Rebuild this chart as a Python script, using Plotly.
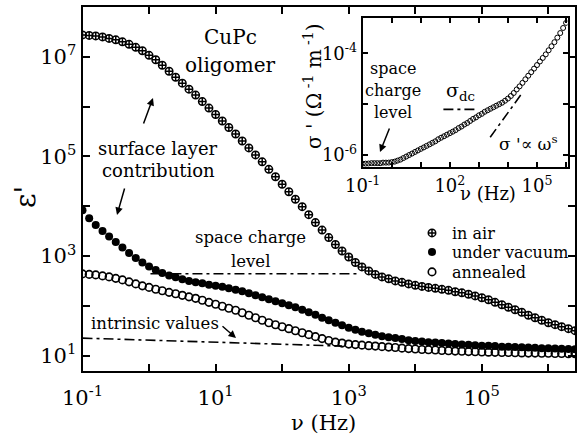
import plotly.graph_objects as go

# ---------------- data ----------------
freq = [0.1, 0.126, 0.158, 0.2, 0.251, 0.316, 0.398, 0.501, 0.631, 0.794,
        1, 1.26, 1.58, 2, 2.51, 3.16, 3.98, 5.01, 6.31, 7.94,
        10, 12.6, 15.8, 20, 25.1, 31.6, 39.8, 50.1, 63.1, 79.4,
        100, 126, 158, 200, 251, 316, 398, 501, 631, 794,
        1e3, 1.26e3, 1.58e3, 2e3, 2.51e3, 3.16e3, 3.98e3, 5.01e3, 6.31e3, 7.94e3,
        1e4, 1.26e4, 1.58e4, 2e4, 2.51e4, 3.16e4, 3.98e4, 5.01e4, 6.31e4, 7.94e4,
        1e5, 1.26e5, 1.58e5, 2e5, 2.51e5, 3.16e5, 3.98e5, 5.01e5, 6.31e5, 7.94e5,
        1e6, 1.26e6, 1.58e6, 2e6, 2.51e6]

eps_air = [2.75e7, 2.69e7, 2.63e7, 2.51e7, 2.34e7, 2.19e7, 2.00e7, 1.78e7, 1.55e7, 1.32e7,
           1.07e7, 8.71e6, 6.76e6, 5.13e6, 3.89e6, 2.95e6, 2.24e6, 1.70e6, 1.26e6, 9.33e5,
           6.92e5, 5.13e5, 3.80e5, 2.82e5, 2.04e5, 1.48e5, 1.07e5, 7.76e4, 5.50e4, 3.89e4,
           2.75e4, 1.95e4, 1.38e4, 9.77e3, 6.76e3, 4.68e3, 3.31e3, 2.34e3, 1.70e3, 1.26e3,
           955, 741, 603, 501, 427, 380, 347, 316, 295, 275,
           257, 245, 234, 224, 214, 204, 191, 182, 170, 158,
           145, 132, 117, 105, 93.3, 83.2, 74.1, 64.6, 57.5, 51.3,
           45.7, 41.7, 38.0, 34.7, 31.6]

eps_vac = [8.32e3, 5.75e3, 4.17e3, 3.16e3, 2.45e3, 1.91e3, 1.48e3, 1.15e3, 912, 741,
           617, 525, 457, 407, 372, 339, 316, 295, 282, 263,
           251, 240, 224, 209, 195, 178, 162, 148, 135, 123,
           112, 102, 93.3, 83.2, 74.1, 66.1, 57.5, 51.3, 45.7, 40.7,
           36.3, 33.1, 30.2, 28.2, 26.3, 24.5, 23.4, 22.4, 21.4, 20.4,
           19.5, 19.1, 18.6, 18.2, 17.8, 17.4, 17.0, 16.6, 16.5, 16.2,
           15.8, 15.7, 15.5, 15.1, 15.0, 14.8, 14.7, 14.5, 14.4, 14.1,
           14.0, 13.8, 13.7, 13.5, 13.4]

eps_ann = [437, 427, 417, 398, 380, 355, 331, 302, 275, 251,
           234, 214, 200, 186, 174, 162, 151, 141, 129, 117,
           107, 97.7, 89.1, 81.3, 72.4, 64.6, 57.5, 51.3, 45.7, 41.7,
           38.0, 34.7, 31.6, 28.8, 26.3, 24.0, 21.9, 20.0, 18.6, 17.8,
           17.0, 16.6, 16.2, 15.8, 15.5, 15.1, 14.8, 14.5, 14.1, 13.8,
           13.5, 13.2, 13.1, 12.9, 12.6, 12.5, 12.3, 12.2, 12.0, 11.9,
           11.8, 11.7, 11.6, 11.5, 11.5, 11.4, 11.3, 11.2, 11.2, 11.1,
           11.1, 11.0, 11.0, 10.9, 10.9]

freq_inset = freq[:71]
sigma = [6.76e-7, 6.76e-7, 6.8e-7, 6.92e-7, 6.92e-7, 6.92e-7, 6.9e-7, 7.08e-7, 7.08e-7, 7.1e-7,
         7.24e-7, 7.41e-7, 7.76e-7, 8.13e-7, 8.71e-7, 9.33e-7, 1.00e-6, 1.07e-6, 1.15e-6, 1.23e-6,
         1.32e-6, 1.41e-6, 1.51e-6, 1.62e-6, 1.74e-6, 1.86e-6, 2.04e-6, 2.19e-6, 2.34e-6, 2.51e-6,
         2.69e-6, 2.88e-6, 3.09e-6, 3.39e-6, 3.63e-6, 3.98e-6, 4.27e-6, 4.68e-6, 5.13e-6, 5.50e-6,
         6.03e-6, 6.46e-6, 7.08e-6, 7.59e-6, 8.13e-6, 8.71e-6, 9.33e-6, 1.00e-5, 1.07e-5, 1.17e-5,
         1.29e-5, 1.45e-5, 1.66e-5, 1.95e-5, 2.24e-5, 2.63e-5, 3.09e-5, 3.63e-5, 4.27e-5, 5.01e-5,
         5.89e-5, 6.92e-5, 8.13e-5, 9.55e-5, 1.15e-4, 1.38e-4, 1.66e-4, 2.04e-4, 2.51e-4, 3.16e-4,
         3.98e-4]

space_level_x = [1.05, 1350]
space_level_y = [440, 440]
intrinsic_x = [0.1, 800]
intrinsic_y = [22.4, 15.5]
sigma_dc_x = [60, 850]
sigma_dc_y = [7.9e-6, 7.9e-6]
power_x = [2450, 30000]
power_y = [2.24e-6, 1.62e-5]

main_x_ticks = [0.1, 1, 10, 100, 1e3, 1e4, 1e5, 1e6]
main_x_text = ['10<sup>-1</sup>', '', '10<sup>1</sup>', '', '10<sup>3</sup>', '', '10<sup>5</sup>', '']
main_y_ticks = [1e1, 1e2, 1e3, 1e4, 1e5, 1e6, 1e7]
main_y_text = ['10<sup>1</sup>', '', '10<sup>3</sup>', '', '10<sup>5</sup>', '', '10<sup>7</sup>']
ins_x_ticks = [0.1, 1, 10, 100, 1e3, 1e4, 1e5, 1e6]
ins_x_text = ['10<sup>-1</sup>', '', '', '10<sup>2</sup>', '', '', '10<sup>5</sup>', '']
ins_y_ticks = [1e-6, 1e-5, 1e-4]
ins_y_text = ['10<sup>-6</sup>', '', '10<sup>-4</sup>']

# ---------------- figure ----------------
W, H = 577, 434
FONT = "DejaVu Serif, Liberation Serif, Times New Roman, serif"


def px(x):
    return x / W


def py(y):
    return 1 - y / H


dash = "10px,4px,3px,4px"
fig = go.Figure()

fig.add_trace(go.Scatter(x=freq, y=eps_air, mode='markers', name='in air', legend='legend',
                         marker=dict(symbol='circle-cross-open', size=7.5, color='black',
                                     line=dict(width=1.5, color='black'))))
fig.add_trace(go.Scatter(x=freq, y=eps_vac, mode='markers', name='under vacuum', legend='legend2',
                         marker=dict(symbol='circle', size=8, color='black')))
fig.add_trace(go.Scatter(x=freq, y=eps_ann, mode='markers', name='annealed', legend='legend3',
                         marker=dict(symbol='circle-open', size=7.5, color='black',
                                     line=dict(width=1.6, color='black'))))
fig.add_trace(go.Scatter(x=space_level_x, y=space_level_y, mode='lines', showlegend=False,
                         line=dict(color='black', width=1.6, dash=dash)))
fig.add_trace(go.Scatter(x=intrinsic_x, y=intrinsic_y, mode='lines', showlegend=False,
                         line=dict(color='black', width=1.6, dash=dash)))

fig.add_trace(go.Scatter(x=freq_inset, y=sigma, mode='markers', showlegend=False,
                         xaxis='x2', yaxis='y2',
                         marker=dict(symbol='circle-open', size=5, color='black',
                                     line=dict(width=1, color='black'))))
fig.add_trace(go.Scatter(x=sigma_dc_x, y=sigma_dc_y, mode='lines', showlegend=False,
                         xaxis='x2', yaxis='y2',
                         line=dict(color='black', width=1.6, dash=dash)))
fig.add_trace(go.Scatter(x=power_x, y=power_y, mode='lines', showlegend=False,
                         xaxis='x2', yaxis='y2',
                         line=dict(color='black', width=1.6, dash=dash)))

axis_common = dict(type='log', showline=True, linewidth=2, linecolor='black',
                   mirror='ticks', ticks='inside', tickwidth=1.5, tickcolor='black',
                   showgrid=False, zeroline=False, tickmode='array', automargin=False)


def leg(ycenter):
    return dict(x=px(412), y=py(ycenter), xanchor='left', yanchor='middle',
                bgcolor='rgba(0,0,0,0)', borderwidth=0,
                font=dict(size=16, family=FONT, color='black'))


fig.update_layout(
    width=W, height=H, autosize=False,
    margin=dict(l=0, r=0, t=0, b=0, autoexpand=False),
    paper_bgcolor='white', plot_bgcolor='white',
    font=dict(family=FONT, color='black', size=20),
    xaxis=dict(axis_common, domain=[px(82.5), px(575)], range=[-1, 6.4], anchor='y',
               tickvals=main_x_ticks, ticktext=main_x_text, ticklen=7,
               ticklabelstandoff=7,
               tickfont=dict(size=21, family=FONT)),
    yaxis=dict(axis_common, domain=[py(371), py(7)], range=[0.69, 8.0], anchor='x',
               tickvals=main_y_ticks, ticktext=main_y_text, ticklen=7,
               tickfont=dict(size=21, family=FONT)),
    xaxis2=dict(axis_common, domain=[px(362.7), px(567.5)], range=[-1.0, 6.05], anchor='y2',
                tickvals=ins_x_ticks, ticktext=ins_x_text, ticklen=5,
                ticklabelstandoff=2,
                tickfont=dict(size=18, family=FONT)),
    yaxis2=dict(axis_common, domain=[py(166.7), py(18.3)], range=[-6.23, -3.31], anchor='x2',
                tickvals=ins_y_ticks, ticktext=ins_y_text, ticklen=5,
                tickfont=dict(size=18, family=FONT)),
    showlegend=True,
    legend=leg(233),
    legend2=leg(252),
    legend3=leg(272),
)


def label(text, x, y, size=20, angle=0):
    fig.add_annotation(text=text, x=px(x), y=py(y), xref='paper', yref='paper',
                       showarrow=False, xanchor='center', yanchor='middle',
                       textangle=angle, font=dict(size=size, family=FONT, color='black'))


def arrow(x_tail, y_tail, x_head, y_head):
    fig.add_annotation(text='', x=px(x_head), y=py(y_head), xref='paper', yref='paper',
                       ax=x_tail - x_head, ay=y_tail - y_head, axref='pixel', ayref='pixel',
                       showarrow=True, arrowhead=2, arrowsize=1, arrowwidth=1.5,
                       arrowcolor='black')


label('CuPc', 230, 37, 20)
label('oligomer', 230, 65, 20)
label('surface layer', 158, 148, 18)
label('contribution', 158, 170, 18)
label('space charge', 250, 238, 16.5)
label('level', 250, 261, 16.5)
label('intrinsic values', 155, 323, 16.5)
label('ν (Hz)', 323, 423, 21)
label("ε'", 25, 197, 28, -90)

label('space', 393, 68, 16)
label('charge', 393, 90, 16)
label('level', 393, 112, 16)
label('σ<sub>dc</sub>', 460, 92, 19)
label("σ '∝ ω<sup>s</sup>", 528, 143, 17)
label('ν (Hz)', 488, 193, 18)
label("σ ' (Ω<sup> -1</sup> m<sup> -1</sup>)", 313, 86, 20, -90)

arrow(143, 125, 153, 98)
arrow(125, 187, 117, 215)
arrow(221, 325, 236, 338)
arrow(390, 127, 380, 152)

fig.write_html("out.html")
